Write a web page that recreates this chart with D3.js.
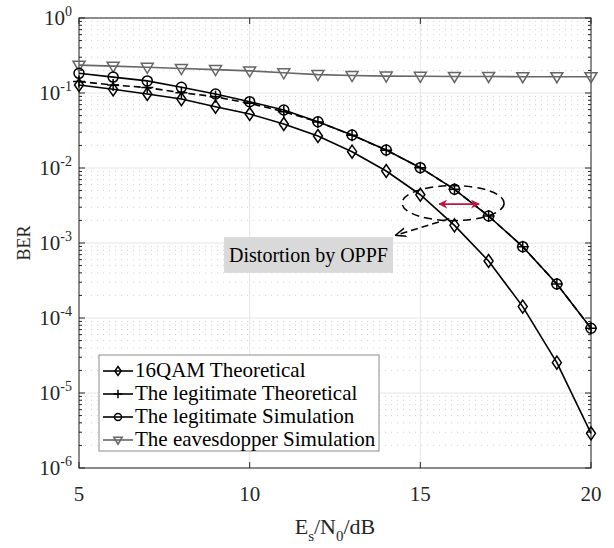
<!DOCTYPE html>
<html>
<head>
<meta charset="utf-8">
<script src="https://cdn.jsdelivr.net/npm/d3@7"></script>
<style>
  body { margin: 0; background: #fff; }
</style>
</head>
<body>
<div id="chart"></div>
<script>
// SNR points (dB)
var snr = [5, 6, 7, 8, 9, 10, 11, 12, 13, 14, 15, 16, 17, 18, 19, 20];

// series values
var qam16Theory = [0.128, 0.112, 0.097, 0.083, 0.0657, 0.0525, 0.0386, 0.0267, 0.0165, 0.00912, 0.0044, 0.00172, 0.000575, 0.000142, 0.0000254, 0.0000029];
var legitTheory = [0.142, 0.128, 0.118, 0.101, 0.089, 0.0728, 0.0564, 0.0412, 0.0274, 0.0173, 0.0101, 0.0052, 0.00229, 0.000893, 0.000284, 0.000073];
var legitSim    = [0.183, 0.163, 0.145, 0.119, 0.097, 0.0766, 0.0593, 0.0414, 0.0275, 0.0174, 0.0101, 0.0052, 0.00229, 0.000893, 0.000284, 0.000073];
var eveSim      = [0.235, 0.228, 0.220, 0.212, 0.205, 0.197, 0.186, 0.176, 0.171, 0.168, 0.167, 0.166, 0.166, 0.165, 0.165, 0.165];

var xTicks = [5, 10, 15, 20];
var yExps = [0, -1, -2, -3, -4, -5, -6];

var legendLabels = ['16QAM Theoretical', 'The legitimate Theoretical', 'The legitimate Simulation', 'The eavesdopper Simulation'];
var annotationText = 'Distortion by OPPF';

var width = 614, height = 548;
var margin = {top: 18, right: 23, bottom: 80, left: 79};
var FONT = "'Liberation Serif', 'Times New Roman', Times, 'DejaVu Serif', serif";

var svg = d3.select('#chart').append('svg')
    .attr('width', width)
    .attr('height', height)
    .attr('font-family', FONT);

var x = d3.scaleLinear().domain([5, 20]).range([margin.left, width - margin.right]);
var y = d3.scaleLog().domain([1e-6, 1]).range([height - margin.bottom, margin.top]);

var x0 = x.range()[0], x1 = x.range()[1];
var y0 = y.range()[0], y1 = y.range()[1];

// minor grid (dotted horizontal)
var minorVals = [];
yExps.forEach(function(e) {
    if (e === 0) return;
    for (var k = 2; k <= 9; k++) minorVals.push(k * Math.pow(10, e));
});

svg.append('g').selectAll('line').data(minorVals).enter().append('line')
    .attr('x1', x0).attr('x2', x1)
    .attr('y1', function(d) { return y(d); }).attr('y2', function(d) { return y(d); })
    .attr('stroke', '#d4d4d4').attr('stroke-width', 1)
    .attr('stroke-dasharray', '1,5');

// major grid
svg.append('g').selectAll('line').data(yExps).enter().append('line')
    .attr('x1', x0).attr('x2', x1)
    .attr('y1', function(e) { return y(Math.pow(10, e)); }).attr('y2', function(e) { return y(Math.pow(10, e)); })
    .attr('stroke', '#e6e6e6').attr('stroke-width', 1);
svg.append('g').selectAll('line').data(xTicks).enter().append('line')
    .attr('x1', function(d) { return x(d); }).attr('x2', function(d) { return x(d); })
    .attr('y1', y0).attr('y2', y1)
    .attr('stroke', '#e6e6e6').attr('stroke-width', 1);

// axes box
svg.append('rect')
    .attr('x', x0).attr('y', y1)
    .attr('width', x1 - x0).attr('height', y0 - y1)
    .attr('fill', 'none').attr('stroke', '#262626').attr('stroke-width', 1);

// ticks (inside, both sides)
var tickG = svg.append('g').attr('stroke', '#262626').attr('stroke-width', 1);
yExps.forEach(function(e) {
    var yy = y(Math.pow(10, e));
    tickG.append('line').attr('x1', x0).attr('x2', x0 + 6).attr('y1', yy).attr('y2', yy);
    tickG.append('line').attr('x1', x1).attr('x2', x1 - 6).attr('y1', yy).attr('y2', yy);
});
minorVals.forEach(function(v) {
    var yy = y(v);
    tickG.append('line').attr('x1', x0).attr('x2', x0 + 3).attr('y1', yy).attr('y2', yy);
    tickG.append('line').attr('x1', x1).attr('x2', x1 - 3).attr('y1', yy).attr('y2', yy);
});
xTicks.forEach(function(t) {
    var xx = x(t);
    tickG.append('line').attr('x1', xx).attr('x2', xx).attr('y1', y0).attr('y2', y0 - 6);
    tickG.append('line').attr('x1', xx).attr('x2', xx).attr('y1', y1).attr('y2', y1 + 6);
});

// y tick labels 10^e
yExps.forEach(function(e) {
    var t = svg.append('text')
        .attr('x', x0 - 7).attr('y', y(Math.pow(10, e)) + 7)
        .attr('text-anchor', 'end')
        .attr('fill', '#262626')
        .style('font-size', '21px');
    t.append('tspan').text('10');
    t.append('tspan').attr('dy', -9).style('font-size', '14px').text(e);
});

// x tick labels
svg.append('g').selectAll('text').data(xTicks).enter().append('text')
    .attr('x', function(d) { return x(d); })
    .attr('y', y0 + 33)
    .attr('text-anchor', 'middle')
    .attr('fill', '#262626')
    .style('font-size', '21px')
    .text(function(d) { return d; });

// axis labels
var xl = svg.append('text')
    .attr('x', (x0 + x1) / 2).attr('y', y0 + 66)
    .attr('text-anchor', 'middle')
    .attr('fill', '#262626')
    .style('font-size', '22px');
xl.append('tspan').text('E');
xl.append('tspan').attr('dy', 7).style('font-size', '15px').text('s');
xl.append('tspan').attr('dy', -7).text('/N');
xl.append('tspan').attr('dy', 7).style('font-size', '15px').text('0');
xl.append('tspan').attr('dy', -7).text('/dB');

svg.append('text')
    .attr('transform', 'translate(30,' + y(1e-3) + ') rotate(-90)')
    .attr('text-anchor', 'middle')
    .attr('fill', '#262626')
    .style('font-size', '18px')
    .text('BER');

// markers
function marker(g, type, cx, cy, color, s) {
    s = s || 1;
    if (type === 'diamond') {
        g.append('path').attr('d', 'M' + cx + ',' + (cy - 6.5 * s) + 'L' + (cx + 4.5 * s) + ',' + cy + 'L' + cx + ',' + (cy + 6.5 * s) + 'L' + (cx - 4.5 * s) + ',' + cy + 'Z')
            .attr('fill', 'none').attr('stroke', color).attr('stroke-width', 1.5);
    } else if (type === 'plus') {
        g.append('path').attr('d', 'M' + (cx - 6 * s) + ',' + cy + 'H' + (cx + 6 * s) + 'M' + cx + ',' + (cy - 6 * s) + 'V' + (cy + 6 * s))
            .attr('fill', 'none').attr('stroke', color).attr('stroke-width', 1.5);
    } else if (type === 'circle') {
        g.append('circle').attr('cx', cx).attr('cy', cy).attr('r', 5 * s)
            .attr('fill', 'none').attr('stroke', color).attr('stroke-width', 1.5);
    } else if (type === 'tri') {
        g.append('path').attr('d', 'M' + (cx - 6 * s) + ',' + (cy - 4 * s) + 'L' + (cx + 6 * s) + ',' + (cy - 4 * s) + 'L' + cx + ',' + (cy + 6 * s) + 'Z')
            .attr('fill', 'none').attr('stroke', color).attr('stroke-width', 1.5);
    }
}

var series = [
    {vals: eveSim, type: 'tri', color: '#666666', dash: null},
    {vals: qam16Theory, type: 'diamond', color: '#000000', dash: null},
    {vals: legitTheory, type: 'plus', color: '#000000', dash: '7,4'},
    {vals: legitSim, type: 'circle', color: '#000000', dash: null}
];

var line = d3.line()
    .x(function(d, i) { return x(snr[i]); })
    .y(function(d) { return y(d); });

series.forEach(function(s) {
    var g = svg.append('g');
    g.append('path')
        .attr('d', line(s.vals))
        .attr('fill', 'none')
        .attr('stroke', s.color)
        .attr('stroke-width', 1.6)
        .attr('stroke-dasharray', s.dash);
    s.vals.forEach(function(v, i) {
        marker(g, s.type, x(snr[i]), y(v), s.color);
    });
});

// annotation: ellipse, red double arrow, dashed pointer, label box
var ann = svg.append('g');
var ecx = x(15.96), ecy = y(0.0034);
ann.append('ellipse')
    .attr('cx', ecx).attr('cy', ecy)
    .attr('rx', 51).attr('ry', 17.5)
    .attr('fill', 'none').attr('stroke', '#000').attr('stroke-width', 1.5)
    .attr('stroke-dasharray', '8,5');

var defs = svg.append('defs');
defs.append('marker').attr('id', 'redhead')
    .attr('viewBox', '0 0 10 10').attr('refX', 9).attr('refY', 5)
    .attr('markerWidth', 5).attr('markerHeight', 5).attr('orient', 'auto-start-reverse')
    .append('path').attr('d', 'M0,0L10,5L0,10L3,5Z').attr('fill', '#c0143c');
defs.append('marker').attr('id', 'blackhead')
    .attr('viewBox', '0 0 10 10').attr('refX', 9).attr('refY', 5)
    .attr('markerWidth', 7).attr('markerHeight', 7).attr('orient', 'auto')
    .append('path').attr('d', 'M0,1L10,5L0,9').attr('fill', 'none').attr('stroke', '#000').attr('stroke-width', 1.4);

ann.append('line')
    .attr('x1', x(15.55)).attr('x2', x(16.72))
    .attr('y1', y(0.0033)).attr('y2', y(0.0033))
    .attr('stroke', '#c0143c').attr('stroke-width', 1.8)
    .attr('marker-start', 'url(#redhead)').attr('marker-end', 'url(#redhead)');

ann.append('line')
    .attr('x1', x(15.85)).attr('x2', x(14.3))
    .attr('y1', y(0.0021)).attr('y2', y(0.00128))
    .attr('stroke', '#000').attr('stroke-width', 1.5)
    .attr('stroke-dasharray', '7,4')
    .attr('marker-end', 'url(#blackhead)');

var bx0 = x(9.25), bx1 = x(14.2), by0 = y(0.0012), by1 = y(0.00040);
ann.append('rect')
    .attr('x', bx0).attr('y', by0)
    .attr('width', bx1 - bx0).attr('height', by1 - by0)
    .attr('fill', '#d9d9d9');
ann.append('text')
    .attr('x', (bx0 + bx1) / 2).attr('y', (by0 + by1) / 2 + 7)
    .attr('text-anchor', 'middle')
    .attr('fill', '#000')
    .style('font-size', '20px')
    .text(annotationText);

// legend
var leg = svg.append('g');
var lx = 99, ly = 355, lw = 280, lh = 96;
leg.append('rect')
    .attr('x', lx).attr('y', ly).attr('width', lw).attr('height', lh)
    .attr('fill', '#fff').attr('stroke', '#8c8c8c').attr('stroke-width', 1);

var legSeries = [series[1], series[2], series[3], series[0]];
legSeries.forEach(function(s, i) {
    var ry = ly + 16 + i * 23;
    var g = leg.append('g');
    g.append('line')
        .attr('x1', lx + 4).attr('x2', lx + 34)
        .attr('y1', ry).attr('y2', ry)
        .attr('stroke', s.color).attr('stroke-width', 1.6);
    marker(g, s.type, lx + 19, ry, s.color, 0.7);
    g.append('text')
        .attr('x', lx + 36).attr('y', ry + 6)
        .attr('fill', '#000')
        .style('font-size', '21px')
        .text(legendLabels[i]);
});
</script>
</body>
</html>
